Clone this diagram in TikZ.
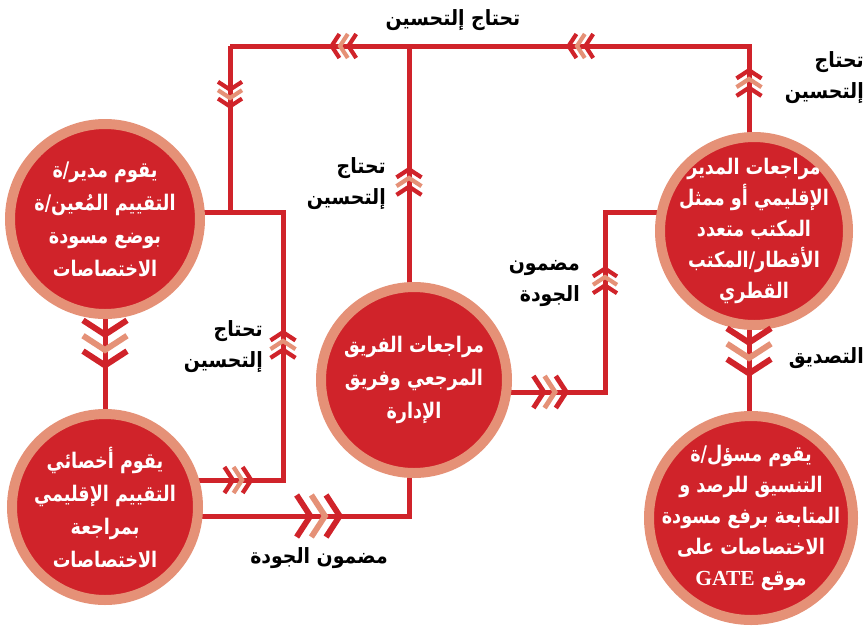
\documentclass[tikz,border=0pt]{standalone}
\usepackage{fontspec}
\usetikzlibrary{calc,backgrounds}
\newfontfamily\arabicfont[Script=Arabic,FakeStretch=0.82]{DejaVu Sans}
\newfontfamily\labelfont[Script=Arabic,FakeStretch=0.9]{DejaVu Sans}
\newfontfamily\gatefont{Liberation Serif}
\TeXXeTstate=1
\definecolor{tred}{RGB}{208,35,42}
\definecolor{tsalmon}{RGB}{229,145,119}
\newcommand{\ar}[1]{\beginR#1\endR}
\newcommand{\chevs}[3]{%
  \begin{scope}[shift={#1},rotate=#2]
    \foreach \k/\col in {-1/tred,0/tsalmon,1/tred}
      \draw[\col,line width=2+0.18*#3] (\k*0.7*#3-0.65*#3,#3) -- (\k*0.7*#3,0) -- (\k*0.7*#3-0.65*#3,-#3);
  \end{scope}}
\begin{document}
\begin{tikzpicture}[x=1pt,y=-1pt,
  bub/.style={circle,fill=tred,draw=tsalmon,line width=10pt,inner sep=0pt},
  btxt/.style={text=white,align=center,inner sep=0pt,font=\arabicfont\bfseries\fontsize{21.5}{33}\selectfont},
  lbl/.style={text=black,align=right,inner sep=0pt,font=\labelfont\bfseries\fontsize{21}{31}\selectfont},
  conn/.style={tred,line width=5pt}]
\useasboundingbox (0,0) rectangle (868,625);
\node[bub,minimum size=190] (mgr) at (105,219) {};
\node[bub,minimum size=186] (spec) at (105,507) {};
\node[bub,minimum size=186] (team) at (414,380) {};
\node[bub,minimum size=188] (dir) at (754,231) {};
\node[bub,minimum size=204] (coord) at (751,518) {};
\node[btxt] at (mgr) {\ar{يقوم مدير/ة}\\\ar{التقييم المُعين/ة}\\\ar{بوضع مسودة}\\\ar{الاختصاصات}};
\node[btxt] at (spec) {\ar{يقوم أخصائي}\\\ar{التقييم الإقليمي}\\\ar{بمراجعة}\\\ar{الاختصاصات}};
\node[btxt] at (team) {\ar{مراجعات الفريق}\\\ar{المرجعي وفريق}\\\ar{الإدارة}};
\node[btxt,font=\arabicfont\bfseries\fontsize{21.5}{31}\selectfont] at (dir) {\ar{مراجعات المدير}\\\ar{الإقليمي أو ممثل}\\\ar{المكتب متعدد}\\\ar{الأقطار/المكتب}\\\ar{القطري}};
\node[btxt,font=\arabicfont\bfseries\fontsize{21.5}{31}\selectfont] at (coord) {\ar{يقوم مسؤل/ة}\\\ar{التنسيق للرصد و}\\\ar{المتابعة برفع مسودة}\\\ar{الاختصاصات على}\\\ar{موقع \beginL{\gatefont\bfseries GATE}\endL}};
\coordinate (tl) at (230,46);
\coordinate (tm) at (409,46);
\coordinate (tr) at (749,46);
\coordinate (lj) at (283,212);
\coordinate (lb) at (283,480);
\coordinate (bj) at (409,516);
\coordinate (rj) at (605,392);
\coordinate (rt) at (605,212);
\begin{scope}[on background layer]
\draw[conn] (tl) -- (tr) -- (tr |- dir.center);
\draw[conn] (tl) -- (tl |- lj);
\draw[conn] (tm) -- (tm |- team.center);
\draw[conn] (mgr.center |- lj) -- (lj) -- (lb) -- (lb -| spec.center);
\draw[conn] (spec.center |- bj) -- (bj) -- (bj |- team.center);
\draw[conn] (team.center |- rj) -- (rj) -- (rt) -- (rt -| dir.center);
\draw[conn] (mgr.center) -- (mgr.center |- spec.center);
\draw[conn] (tr |- dir.center) -- (tr |- coord.center);
\end{scope}
\chevs{(340,46)}{180}{12}
\chevs{(577,46)}{180}{12}
\chevs{(230,98)}{270}{12}
\chevs{(749,79)}{90}{12.5}
\chevs{(409,178)}{90}{12.5}
\chevs{(283,341)}{90}{12.5}
\chevs{(605,277)}{90}{12}
\chevs{(242,480)}{0}{13}
\chevs{(325,516)}{0}{21}
\chevs{(555,392)}{0}{16}
\chevs{(105,350)}{270}{22}
\chevs{(749,358)}{270}{22}
\node[lbl] (t1) at (453,20) {\ar{تحتاج إلتحسين}};
\node[lbl,anchor=east] (t2) at (864,78) {\ar{تحتاج}\\\ar{إلتحسين}};
\node[lbl,anchor=east] (t3) at (386,184) {\ar{تحتاج}\\\ar{إلتحسين}};
\node[lbl,anchor=east] (t4) at (263,347) {\ar{تحتاج}\\\ar{إلتحسين}};
\node[lbl,anchor=east] (q1) at (580,284) {\ar{مضمون}\\\ar{الجودة}};
\node[lbl] (q2) at (319,558) {\ar{مضمون الجودة}};
\node[lbl,anchor=east] (ok) at (864,358) {\ar{التصديق}};
\end{tikzpicture}
\end{document}
